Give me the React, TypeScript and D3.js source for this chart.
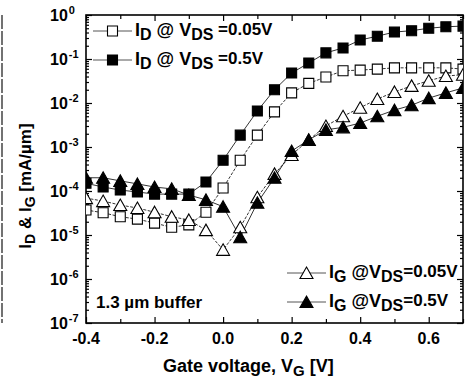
import React, { useEffect, useRef } from 'react';
import * as d3 from 'd3';

// gate voltage sweep, V
const gateVoltage = [
  -0.4, -0.35, -0.3, -0.25, -0.2, -0.15, -0.1, -0.05, 0, 0.05, 0.1, 0.15,
  0.2, 0.25, 0.3, 0.35, 0.4, 0.45, 0.5, 0.55, 0.6, 0.65, 0.7,
];

// drain current, mA/um
const idLow = [
  3.7e-5, 3.2e-5, 2.6e-5, 2.3e-5, 1.86e-5, 1.5e-5, 1.7e-5, 3.3e-5, 1.17e-4, 5.0e-4,
  1.86e-3, 6.3e-3, 1.7e-2, 2.8e-2, 3.9e-2, 5.4e-2, 5.6e-2, 5.9e-2, 6.3e-2, 6.3e-2,
  6.3e-2, 6.3e-2, 5.9e-2,
];
const idHigh = [
  1.5e-4, 1.23e-4, 1.05e-4, 9.5e-5, 8.5e-5, 8.5e-5, 8.5e-5, 1.6e-4, 5.0e-4, 1.86e-3,
  6.6e-3, 2.0e-2, 4.8e-2, 8.1e-2, 0.138, 0.178, 0.27, 0.33, 0.41, 0.44, 0.5, 0.54, 0.56,
];

// gate current, mA/um
const igLow = [
  6.9e-5, 5.9e-5, 4.8e-5, 4.1e-5, 3.3e-5, 2.6e-5, 2.2e-5, 1.29e-5, 4.6e-6, 1.5e-5,
  7.2e-5, 2.45e-4, 6.6e-4, 1.45e-3, 3.0e-3, 5.0e-3, 7.8e-3, 1.23e-2, 1.78e-2, 2.45e-2,
  3.2e-2, 4.1e-2, 4.4e-2,
];
const igHigh = [
  2.0e-4, 2.0e-4, 1.7e-4, 1.45e-4, 1.23e-4, 1.12e-4, 8.1e-5, 6.3e-5, 4.4e-5, 8.9e-6,
  5.4e-5, 2.0e-4, 8.1e-4, 1.45e-3, 2.45e-3, 2.8e-3, 3.5e-3, 5.0e-3, 6.9e-3, 8.9e-3,
  1.29e-2, 1.7e-2, 2.2e-2,
];

const xTicks = [-0.4, -0.2, 0.0, 0.2, 0.4, 0.6];
const xMinorTicks = [-0.3, -0.1, 0.1, 0.3, 0.5, 0.7];
const yExponents = [0, -1, -2, -3, -4, -5, -6, -7];

const FONT = '"Liberation Sans", Arial, sans-serif';

type Shape = 'square' | 'triangle';

const markerPath = (shape: Shape, cx: number, cy: number) => {
  if (shape === 'square') {
    return `M${cx - 5},${cy - 5}h10v10h-10Z`;
  }
  return `M${cx},${cy - 6}L${cx + 6.5},${cy + 5.5}L${cx - 6.5},${cy + 5.5}Z`;
};

const App: React.FC = () => {
  const svgRef = useRef<SVGSVGElement | null>(null);

  useEffect(() => {
    if (!svgRef.current) return;
    const svg = d3.select(svgRef.current);
    svg.selectAll('*').remove();

    const left = 86, right = 463, top = 15, bottom = 323;

    const x = d3.scaleLinear().domain([-0.4, 0.7]).range([left, right]);
    const y = d3.scaleLog().domain([1e-7, 1]).range([bottom, top]);

    // stray edge of the neighbouring panel
    svg.append('line')
      .attr('x1', 2).attr('x2', 2).attr('y1', 15).attr('y2', 323)
      .attr('stroke', '#444').attr('stroke-width', 1.5)
      .attr('stroke-dasharray', '14 2');

    svg.append('clipPath').attr('id', 'plot-clip')
      .append('rect')
      .attr('x', left).attr('y', top)
      .attr('width', right - left).attr('height', bottom - top);

    // ---- axes ----
    const minorY: number[] = [];
    for (let e = -7; e < 0; e++) {
      for (let m = 2; m <= 9; m++) minorY.push(m * Math.pow(10, e));
    }
    const majorY = yExponents.map(e => Math.pow(10, e));

    const axisGroup = svg.append('g');
    const addAxis = (axis: d3.Axis<any>, transform: string) => {
      const g = axisGroup.append('g').attr('transform', transform).call(axis);
      g.select('.domain').remove();
      g.selectAll('text').remove();
      g.selectAll('line').attr('stroke', '#000').attr('stroke-width', 1.2);
    };

    addAxis(d3.axisBottom(x).tickValues(xTicks).tickSize(-6), `translate(0,${bottom})`);
    addAxis(d3.axisBottom(x).tickValues(xMinorTicks).tickSize(-4), `translate(0,${bottom})`);
    addAxis(d3.axisTop(x).tickValues(xTicks).tickSize(-6), `translate(0,${top})`);
    addAxis(d3.axisTop(x).tickValues(xMinorTicks).tickSize(-4), `translate(0,${top})`);
    addAxis(d3.axisLeft(y).tickValues(majorY).tickSize(-6), `translate(${left},0)`);
    addAxis(d3.axisLeft(y).tickValues(minorY).tickSize(-3), `translate(${left},0)`);
    addAxis(d3.axisRight(y).tickValues(majorY).tickSize(-6), `translate(${right},0)`);
    addAxis(d3.axisRight(y).tickValues(minorY).tickSize(-3), `translate(${right},0)`);

    svg.append('rect')
      .attr('x', left).attr('y', top)
      .attr('width', right - left).attr('height', bottom - top)
      .attr('fill', 'none').attr('stroke', '#000').attr('stroke-width', 1.6);

    // x tick labels
    svg.append('g')
      .selectAll('text')
      .data(xTicks)
      .enter().append('text')
      .attr('x', d => x(d))
      .attr('y', bottom + 21)
      .attr('text-anchor', 'middle')
      .style('font', `bold 16px ${FONT}`)
      .text(d => d3.format('.1f')(d).replace('−', '-'));

    // y tick labels: 10^n
    const yLab = svg.append('g')
      .selectAll('text')
      .data(yExponents)
      .enter().append('text')
      .attr('x', 50)
      .attr('y', d => y(Math.pow(10, d)) + 5.5)
      .style('font', `bold 16px ${FONT}`);
    yLab.append('tspan').text('10');
    yLab.append('tspan')
      .attr('dy', -7)
      .attr('dx', 1)
      .style('font-size', '11px')
      .text(d => (d === 0 ? '0' : `-${-d}`));

    // axis titles
    const xt = svg.append('text')
      .attr('x', 163).attr('y', 372)
      .style('font', `bold 18px ${FONT}`);
    xt.append('tspan').text('Gate voltage, V');
    xt.append('tspan').attr('dy', 4).style('font-size', '15px').text('G');
    xt.append('tspan').attr('dy', -4).text(' [V]');

    const yt = svg.append('text')
      .attr('transform', `translate(31,${186}) rotate(-90)`)
      .attr('text-anchor', 'middle')
      .style('font', `bold 17px ${FONT}`);
    yt.append('tspan').text('I');
    yt.append('tspan').attr('dy', 4).style('font-size', '14px').text('D');
    yt.append('tspan').attr('dy', -4).text(' & I');
    yt.append('tspan').attr('dy', 4).style('font-size', '14px').text('G');
    yt.append('tspan').attr('dy', -4).text(' [mA/\u00b5m]');

    // ---- series ----
    const series: { values: number[]; shape: Shape; filled: boolean }[] = [
      { values: idLow, shape: 'square', filled: false },
      { values: idHigh, shape: 'square', filled: true },
      { values: igLow, shape: 'triangle', filled: false },
      { values: igHigh, shape: 'triangle', filled: true },
    ];

    const plot = svg.append('g').attr('clip-path', 'url(#plot-clip)');
    const line = d3.line<number>()
      .x((_, i) => x(gateVoltage[i]))
      .y(d => y(d));

    series.forEach(s => {
      plot.append('path')
        .datum(s.values)
        .attr('d', line)
        .attr('fill', 'none')
        .attr('stroke', '#000')
        .attr('stroke-width', 0.8)
        .attr('stroke-dasharray', s.filled ? null : '3 1.5');
    });

    series.forEach(s => {
      plot.append('g')
        .selectAll('path')
        .data(s.values)
        .enter().append('path')
        .attr('d', (d, i) => markerPath(s.shape, x(gateVoltage[i]), y(d)))
        .attr('fill', s.filled ? '#000' : '#fff')
        .attr('stroke', '#000')
        .attr('stroke-width', 1.1);
    });

    // ---- legends ----
    const legendRow = (
      lx: number, ly: number, shape: Shape, filled: boolean,
      build: (t: d3.Selection<SVGTextElement, unknown, null, undefined>) => void,
    ) => {
      svg.append('line')
        .attr('x1', lx).attr('x2', lx + 39).attr('y1', ly).attr('y2', ly)
        .attr('stroke', '#555').attr('stroke-width', 1);
      svg.append('path')
        .attr('d', markerPath(shape, lx + 19.5, ly))
        .attr('fill', filled ? '#000' : '#fff')
        .attr('stroke', '#000').attr('stroke-width', 1.1);
      const t = svg.append('text')
        .attr('x', lx + 42).attr('y', ly + 5)
        .style('font', `bold 18px ${FONT}`);
      build(t as any);
    };

    const idLabel = (v: string) => (t: d3.Selection<SVGTextElement, unknown, null, undefined>) => {
      t.append('tspan').text('I');
      t.append('tspan').attr('dy', 4).style('font-size', '16px').text('D');
      t.append('tspan').attr('dy', -4).text(' @ V');
      t.append('tspan').attr('dy', 4).style('font-size', '16px').text('DS');
      t.append('tspan').attr('dy', -5).style('font-size', '17px').text(` =${v}`);
    };
    const igLabel = (v: string) => (t: d3.Selection<SVGTextElement, unknown, null, undefined>) => {
      t.append('tspan').text('I');
      t.append('tspan').attr('dy', 4).style('font-size', '16px').text('G');
      t.append('tspan').attr('dy', -4).text(' @V');
      t.append('tspan').attr('dy', 4).style('font-size', '16px').text('DS');
      t.append('tspan').attr('dy', -5).style('font-size', '17px').text(`=${v}`);
    };

    legendRow(93, 31, 'square', false, idLabel('0.05V'));
    legendRow(93, 60, 'square', true, idLabel('0.5V'));
    legendRow(287, 273, 'triangle', false, igLabel('0.05V'));
    legendRow(287, 302, 'triangle', true, igLabel('0.5V'));

    svg.append('text')
      .attr('x', 96).attr('y', 308)
      .style('font', `bold 17px ${FONT}`)
      .text('1.3 \u00b5m buffer');
  }, []);

  return (
    <svg
      ref={svgRef}
      width={471}
      height={381}
      style={{ position: 'absolute', left: 0, top: 0, background: '#fff' }}
    />
  );
};

export default App;
